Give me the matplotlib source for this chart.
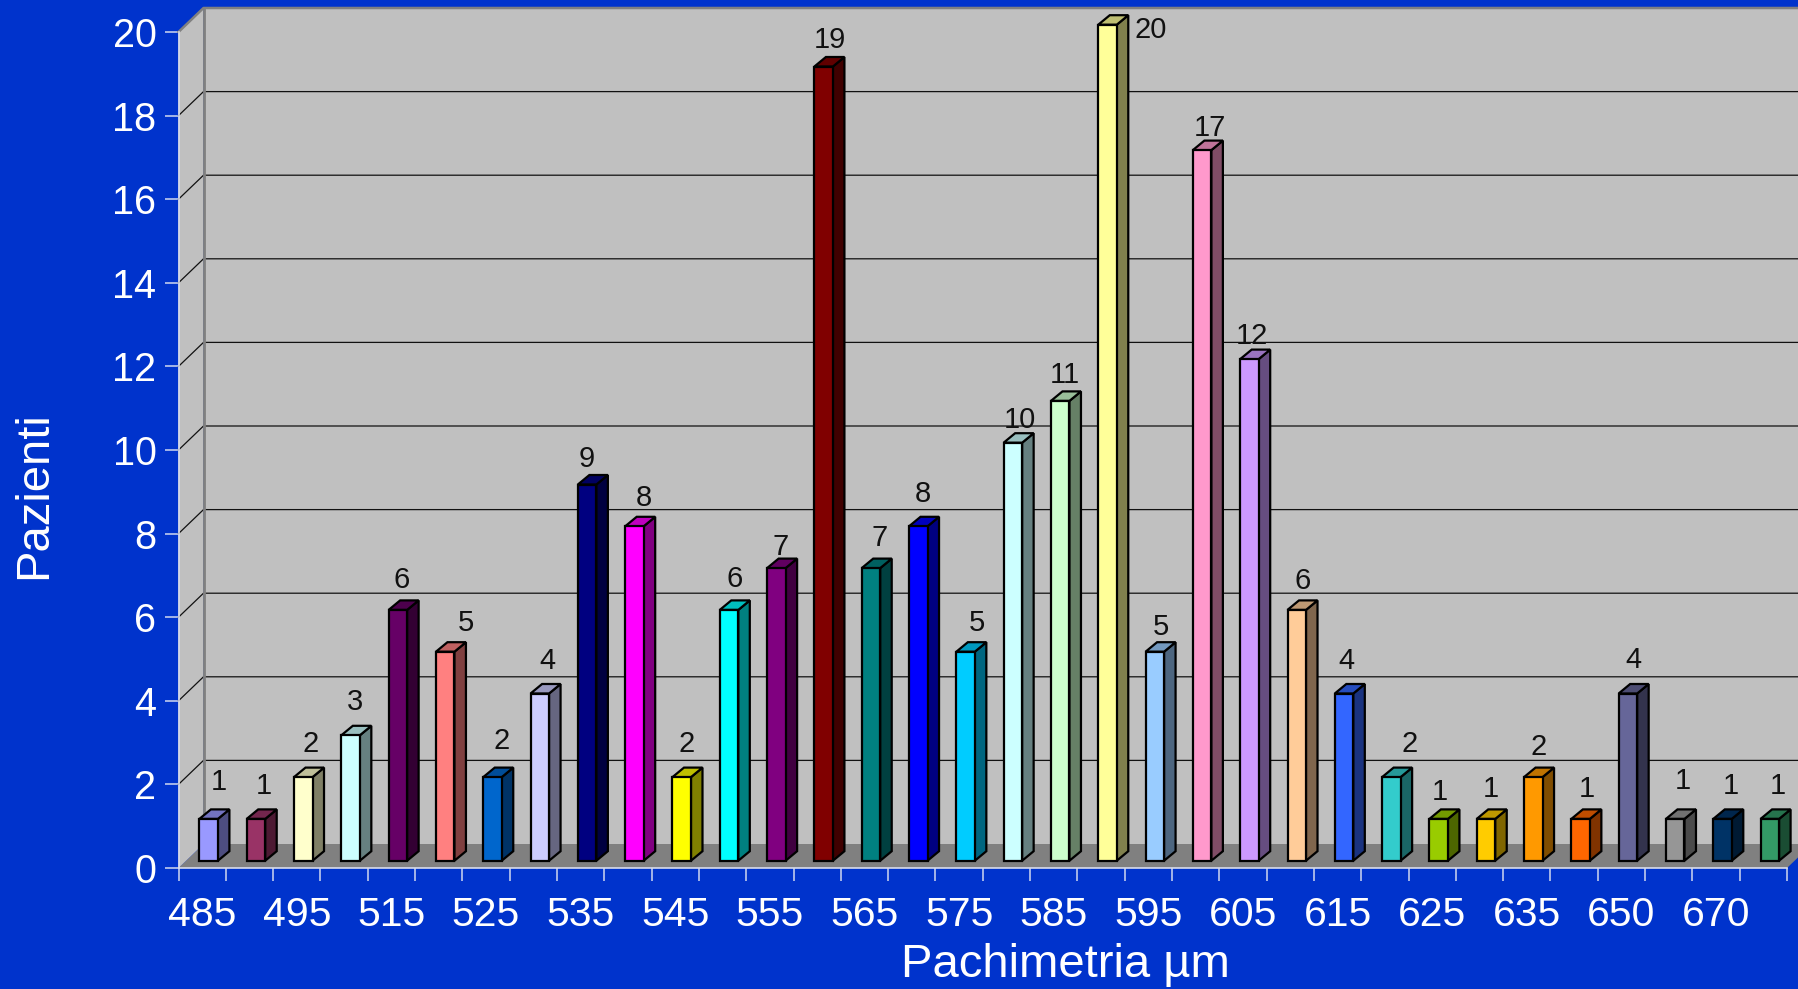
import matplotlib
matplotlib.use('Agg')
import matplotlib.pyplot as plt
from matplotlib.patches import Polygon
from matplotlib.colors import to_rgb

plt.rcParams['font.family'] = ['Liberation Sans', 'DejaVu Sans']

# patients per pachymetry class
values = [1, 1, 2, 3, 6, 5, 2, 4, 9, 8, 2, 6, 7, 19, 7, 8, 5,
          10, 11, 20, 5, 17, 12, 6, 4, 2, 1, 1, 2, 1, 4, 1, 1, 1]
colors = ['#9999FF', '#993366', '#FFFFCC', '#CCFFFF', '#660066', '#FF8080', '#0066CC',
          '#CCCCFF', '#000080', '#FF00FF', '#FFFF00', '#00FFFF', '#800080', '#800000',
          '#008080', '#0000FF', '#00CCFF', '#CCFFFF', '#CCFFCC', '#FFFF99', '#99CCFF',
          '#FF99CC', '#CC99FF', '#FFCC99', '#3366FF', '#33CCCC', '#99CC00', '#FFCC00',
          '#FF9900', '#FF6600', '#666699', '#969696', '#003366', '#339966']
# every second class is labelled
x_labels = ['485', '495', '515', '525', '535', '545', '555', '565', '575',
            '585', '595', '605', '615', '625', '635', '650', '670']
y_ticks = list(range(0, 21, 2))
# the value labels are placed a bit unevenly in the original (nudges in pixels)
label_dx = [2, 0, -1, -3, -4, 11, 1, 0, -7, 1, -3, -2, -3, -2, 1, -3, 3,
            -1, -3, 0, -2, 0, -5, -2, -5, 9, -6, -3, -2, -2, -2, 0, 0, 0]
label_dy = [0, -3, -3, -2, -3, -5, 0, -2, -5, -3, -3, -2, -10, 2, -2, 0, -5,
            -7, -3, 0, -8, -3, -5, -4, -2, -3, -9, -6, -5, -6, -1, 1, -3, -3]

BLUE = '#0033CC'
WALL = '#C0C0C0'
FLOOR = '#808080'
W, H = 1798, 989
PX_X = (1787 - 178.5) / len(values)   # pixels per category
PX_Y = (868 - 32) / 20                # pixels per patient

fig = plt.figure(figsize=(W / 100, H / 100), dpi=100, facecolor=BLUE)
ax = fig.add_axes([178.5 / W, (H - 868) / H, (1787 - 178.5) / W, (868 - 32) / H])
ax.set_facecolor('none')
ax.set_xlim(0, len(values))
ax.set_ylim(0, 20)

# fake 3d: depth of the walls and of the bars, in data units
wall_dx = 25 / PX_X
wall_dy = 24 / PX_Y
bar_dx = 11.5 / PX_X
bar_dy = 9.5 / PX_Y
bar_w = 18.5 / PX_X
n = len(values)

ax.add_patch(Polygon([(0, 0), (n, 0), (n + wall_dx, wall_dy), (wall_dx, wall_dy)],
                     fc=FLOOR, ec='none', clip_on=False, zorder=1))
ax.add_patch(Polygon([(wall_dx, wall_dy), (n + wall_dx, wall_dy), (n + wall_dx, 20 + wall_dy),
                      (wall_dx, 20 + wall_dy)], fc=WALL, ec='none', clip_on=False, zorder=1))
ax.add_patch(Polygon([(0, 0), (wall_dx, wall_dy), (wall_dx, 20 + wall_dy), (0, 20)],
                     fc=WALL, ec='none', clip_on=False, zorder=1))

for t in y_ticks[1:-1]:
    ax.plot([0, wall_dx, n + wall_dx], [t, t + wall_dy, t + wall_dy], color='#111111', lw=0.9,
            clip_on=False, zorder=2)
# wall edges
ax.plot([n + wall_dx, wall_dx, 0], [20 + wall_dy] * 2 + [20], color=FLOOR, lw=1.8,
        clip_on=False, zorder=2)
ax.plot([wall_dx, wall_dx], [wall_dy, 20 + wall_dy], color=FLOOR, lw=2, clip_on=False, zorder=2)

# bars sit slightly behind the front edge of the floor
xs = [i + 0.5 + 6.5 / PX_X for i in range(n)]
base = 7.3 / PX_Y
ax.bar(xs, values, width=bar_w, bottom=base, color=colors, edgecolor='black', linewidth=1.6,
       zorder=4, clip_on=False)
for i, (x, v, c) in enumerate(zip(xs, values, colors)):
    rgb = to_rgb(c)
    l, r = x - bar_w / 2, x + bar_w / 2
    top = base + v
    ax.add_patch(Polygon([(r, base), (r + bar_dx, base + bar_dy), (r + bar_dx, top + bar_dy), (r, top)],
                         fc=[k * 0.5 for k in rgb], ec='black', lw=1.6, zorder=3, clip_on=False))
    ax.add_patch(Polygon([(l, top), (l + bar_dx, top + bar_dy), (r + bar_dx, top + bar_dy), (r, top)],
                         fc=[k * 0.75 for k in rgb], ec='black', lw=1.6, zorder=3, clip_on=False))
    if v == 20:
        # no room above the top bar, label goes beside it
        ax.annotate(str(v), (r + bar_dx, top), xytext=(4.3, -3.6), textcoords='offset points',
                    fontsize=21, color='#111111', ha='left', va='center', zorder=5,
                    annotation_clip=False)
    else:
        ox = (8 + label_dx[i] * 1.147) * 0.72
        oy = (28 - 0.7 * v + label_dy[i] * 1.147) * 0.72
        ax.annotate(str(v), (x, top + bar_dy), xytext=(ox, oy), textcoords='offset points',
                    fontsize=21, color='#111111', ha='center', va='center', zorder=5,
                    annotation_clip=False)

for side in ['top', 'right']:
    ax.spines[side].set_visible(False)
for side in ['left', 'bottom']:
    ax.spines[side].set_color('#D8DCEC')
    ax.spines[side].set_linewidth(1.2)
    ax.spines[side].set_zorder(6)

ax.set_yticks(y_ticks)
ax.tick_params(axis='y', length=10.4, width=1.1, color='#D0D8F0', labelcolor='white',
               labelsize=28.5, pad=5.5)
ax.set_xticks(range(n + 1))
ax.set_xticklabels([])
ax.tick_params(axis='x', which='major', length=9.4, width=1.1, color='#D0D8F0')
ax.set_xticks([i + 0.5 for i in range(0, n, 2)], minor=True)
ax.set_xticklabels(x_labels, minor=True)
ax.tick_params(axis='x', which='minor', length=0, labelcolor='white', labelsize=29.5, pad=20)

fig.text(1065 / W, 1 - 965 / H, 'Pachimetria µm', color='white', fontsize=34, ha='center', va='center')
fig.text(34 / W, 1 - 495 / H, 'Pazienti', color='white', fontsize=34, rotation=90, ha='center', va='center')

fig.savefig('out.png', facecolor=BLUE)
